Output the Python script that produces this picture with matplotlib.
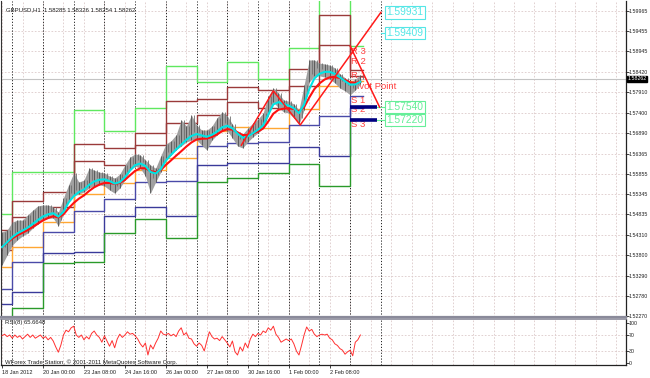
import matplotlib
matplotlib.use("Agg")
import matplotlib.pyplot as plt
import numpy as np
import pandas as pd

# ---------------- data ----------------
# 4-hour sampled price bars (bar index = hours since 18 Jan 2012 16:00)
bar_step = 4
close = [1.5401, 1.5419, 1.5436, 1.5444, 1.5449, 1.5457, 1.5469, 1.5479, 1.5487, 1.5489,
         1.5489, 1.5469, 1.5502, 1.5537, 1.5545, 1.5550, 1.5552, 1.5570, 1.5575, 1.5575,
         1.5573, 1.5563, 1.5555, 1.5568, 1.5590, 1.5611, 1.5621, 1.5616, 1.5600, 1.5575,
         1.5583, 1.5608, 1.5641, 1.5648, 1.5661, 1.5671, 1.5684, 1.5691, 1.5691, 1.5679,
         1.5676, 1.5689, 1.5701, 1.5714, 1.5711, 1.5694, 1.5674, 1.5666, 1.5684, 1.5696,
         1.5706, 1.5719, 1.5762, 1.5787, 1.5772, 1.5757, 1.5754, 1.5744, 1.5727, 1.5782,
         1.5838, 1.5853, 1.5850, 1.5848, 1.5843, 1.5833, 1.5820, 1.5810, 1.5802, 1.5812,
         1.5825]
high = [1.5439, 1.5444, 1.5464, 1.5469, 1.5469, 1.5482, 1.5494, 1.5505, 1.5507, 1.5507,
        1.5502, 1.5489, 1.5525, 1.5558, 1.5588, 1.5565, 1.5570, 1.5600, 1.5595, 1.5590,
        1.5588, 1.5580, 1.5575, 1.5585, 1.5608, 1.5628, 1.5636, 1.5633, 1.5621, 1.5608,
        1.5600, 1.5631, 1.5661, 1.5669, 1.5684, 1.5722, 1.5706, 1.5734, 1.5709, 1.5696,
        1.5696, 1.5706, 1.5727, 1.5742, 1.5732, 1.5711, 1.5691, 1.5686, 1.5701, 1.5714,
        1.5724, 1.5739, 1.5782, 1.5802, 1.5790, 1.5772, 1.5769, 1.5762, 1.5747, 1.5810,
        1.5873, 1.5873, 1.5865, 1.5863, 1.5860, 1.5853, 1.5838, 1.5828, 1.5817, 1.5825,
        1.5835]
low = [1.5356, 1.5381, 1.5406, 1.5419, 1.5429, 1.5436, 1.5449, 1.5459, 1.5469, 1.5474,
       1.5474, 1.5454, 1.5484, 1.5520, 1.5530, 1.5535, 1.5540, 1.5550, 1.5555, 1.5558,
       1.5555, 1.5545, 1.5537, 1.5550, 1.5570, 1.5595, 1.5605, 1.5600, 1.5580, 1.5537,
       1.5565, 1.5590, 1.5621, 1.5633, 1.5646, 1.5656, 1.5666, 1.5671, 1.5671, 1.5658,
       1.5646, 1.5671, 1.5684, 1.5696, 1.5694, 1.5676, 1.5656, 1.5651, 1.5666, 1.5679,
       1.5689, 1.5701, 1.5732, 1.5767, 1.5752, 1.5742, 1.5739, 1.5727, 1.5711, 1.5747,
       1.5817, 1.5833, 1.5833, 1.5830, 1.5825, 1.5815, 1.5802, 1.5795, 1.5785, 1.5797,
       1.5812]

# RSI(8), 2-hour sampled
rsi_step = 2
rsi = [68, 72, 66, 70, 62, 70, 64, 68, 60, 66, 72, 64, 70, 62, 66, 70, 62, 66, 58, 64,
       55, 40, 27, 45, 70, 82, 78, 88, 92, 70, 64, 70, 58, 66, 60, 74, 80, 70, 64, 52,
       68, 55, 42, 56, 38, 60, 72, 64, 70, 78, 72, 74, 68, 60, 48, 40, 50, 20, 45, 35,
       50, 62, 80, 72, 70, 74, 68, 72, 66, 80, 88, 70, 76, 62, 60, 48, 42, 50, 44, 30,
       55, 78, 66, 60, 62, 56, 66, 58, 50, 40, 55, 28, 20, 40, 30, 50, 38, 60, 72, 66,
       74, 70, 80, 76, 88, 82, 92, 72, 64, 52, 56, 60, 56, 60, 48, 30, 20, 44, 70, 90,
       80, 84, 72, 66, 70, 72, 70, 72, 62, 58, 48, 44, 36, 32, 22, 28, 32, 18, 52, 58,
       70]

# daily pivot levels (day boundaries in bars)
day_edges = [-1, 8, 32, 56, 80, 104, 128, 152, 176, 200, 224, 248, 272, 282]
r3 = [1.54844, 1.55903, 1.55903, 1.57468, 1.56938, 1.57518, 1.58578, 1.58174, 1.58679, 1.58250, 1.59032, 1.60369, 1.59082]
r2 = [1.54440, 1.55172, 1.55399, 1.56610, 1.56509, 1.56887, 1.57695, 1.57745, 1.58048, 1.57972, 1.58502, 1.59865, 1.58477]
r1 = [1.53936, 1.54768, 1.55020, 1.56181, 1.56080, 1.56585, 1.57140, 1.57342, 1.57670, 1.57518, 1.58073, 1.59108, 1.58326]
pp = [1.53507, 1.54011, 1.54642, 1.55348, 1.55626, 1.55954, 1.56257, 1.56938, 1.57039, 1.57014, 1.57493, 1.58073, 1.58199]
s1 = [1.52952, 1.53633, 1.54390, 1.54920, 1.55222, 1.55651, 1.55676, 1.56559, 1.56635, 1.56660, 1.57089, 1.57316, 1.57821]
s2 = [1.52573, 1.52876, 1.53860, 1.53885, 1.54793, 1.55020, 1.54793, 1.56080, 1.56131, 1.56131, 1.56534, 1.56307, 1.57518]
s3 = [1.52043, 1.52472, 1.53608, 1.53633, 1.54364, 1.54718, 1.54238, 1.55651, 1.55752, 1.55878, 1.56105, 1.55550, 1.57241]

# zigzag / projection lines
zig_bars = [187, 212, 233, 296]
zig_prices = [1.5658, 1.5795, 1.5709, 1.59931]
down_bars = [272, 295]
down_prices = [1.5908, 1.57540]

target_labels = ["1.59931", "1.59409", "1.57540", "1.57220"]
target_prices = [1.59931, 1.59409, 1.57540, 1.57220]

last_price = 1.58262

separators = [8, 32, 56, 80, 104, 128, 152, 176, 200, 224, 248, 272, 296]
ytick_vals = [1.59965, 1.59455, 1.58945, 1.58420, 1.57910, 1.57400, 1.56890, 1.56365,
              1.55855, 1.55345, 1.54835, 1.54310, 1.53800, 1.53290, 1.52780, 1.52270]
xtick_bars = [0, 32, 64, 96, 128, 160, 192, 224, 256]
xtick_labels = ["18 Jan 2012", "20 Jan 00:00", "23 Jan 08:00", "24 Jan 16:00",
                "26 Jan 00:00", "27 Jan 08:00", "30 Jan 16:00", "1 Feb 00:00", "2 Feb 08:00"]
rsi_ticks = [100, 70, 30, 0]

# ---------------- figure ----------------
plt.rcParams['font.family'] = ['Liberation Sans', 'DejaVu Sans']
fig = plt.figure(figsize=(6.5, 3.78), dpi=100)
fig.patch.set_facecolor('white')
ax = fig.add_axes([1/650, 61/378, 625/650, 316/378])
ar = fig.add_axes([1/650, 13/378, 625/650, 46/378])

XL = (-0.8, 487.5)
grid_col = '#dccaca'
small = 4.0
txt_col = '#202020'

for a in (ax, ar):
    a.set_xlim(*XL)
    a.set_facecolor('white')
    for v in np.arange(0, 488, 16):
        a.axvline(v, color=grid_col, lw=0.6, ls=(0, (2, 2)), zorder=0)
    for s in separators:
        a.axvline(s, color='#222222', lw=0.7, ls=(0, (1.2, 1.8)), zorder=1)
    a.spines['top'].set_visible(False)
    a.spines['left'].set_color('#333333')
    a.spines['left'].set_linewidth(0.8)
    a.spines['right'].set_color('#222222')
    a.spines['right'].set_linewidth(0.9)
    a.yaxis.tick_right()
    a.tick_params(axis='y', length=1.8, width=0.6, pad=0.2, labelsize=3.75, colors=txt_col)

ax.set_ylim(1.52245, 1.60218)
for v in ytick_vals:
    ax.axhline(v, color=grid_col, lw=0.6, ls=(0, (2, 2)), zorder=0)
ax.set_yticks(ytick_vals)
ax.set_yticklabels([f"{v:.5f}" for v in ytick_vals])
ax.set_xticks([])
ax.spines['bottom'].set_color('#8a8a9a')
ax.spines['bottom'].set_linewidth(1.6)

# pivot step lines
step_x = day_edges
def steps(vals, col, lw=1.0):
    ax.step(step_x, list(vals) + [vals[-1]], where='post', color=col, lw=lw, zorder=2)
steps(r3, '#5fe85f')
steps(r2, '#9a3a3a')
steps(r1, '#9a3a3a')
steps(pp, '#ffa733')
steps(s1, '#4a4aa8')
steps(s2, '#3a3a9a')
steps(s3, '#2a9a2a')

# current price line
ax.axhline(last_price, color='#c4c4c4', lw=0.8, zorder=1)

# pivot labels
lab_col = '#ff4040'
for txt, pr in [("R 3", 1.58956), ("R 2", 1.58704), ("R 1", 1.5833), ("Pivot Point", 1.58073),
                ("S 1", 1.5772), ("S 2", 1.5747), ("S 3", 1.5711)]:
    ax.text(273, pr, txt, color=lab_col, fontsize=6.8, va='center', ha='left', zorder=2.5)

# price bars: grey band with dark spikes
bx = np.arange(len(close)) * bar_step
ax.fill_between(bx, low, high, color='#a0a0a0', lw=0, zorder=3)
ax.vlines(bx, low, high, color='#505050', lw=0.6, zorder=3.2)
ax.vlines(bx + 2, close, high, color='#707070', lw=0.6, zorder=3.1)

# moving averages
cs = pd.Series(close)
ma_fast = cs.ewm(span=3, adjust=True).mean()
ma_slow = cs.ewm(span=6, adjust=True).mean()
ax.plot(bx, ma_slow, color='#ff1010', lw=1.5, zorder=4)
ax.plot(bx, ma_fast, color='#00e4e4', lw=1.5, zorder=4.2)

# zigzag + projections
ax.plot(zig_bars, zig_prices, color='#ff1a1a', lw=1.1, zorder=5)
ax.plot(down_bars, down_prices, color='#ff1a1a', lw=1.1, zorder=5)

# navy level bars and connectors
for pr in target_prices[2:]:
    ax.plot([272, 293], [pr, pr], color='#000080', lw=2.6, zorder=4.5, solid_capstyle='butt')
    ax.plot([293, 300], [pr, pr], color='#66ee99', lw=0.8, zorder=4.5)
ax.plot([296, 300], [target_prices[1]] * 2, color='#55e6e6', lw=0.8, zorder=4.5)

box_cols = ['#55e6e6', '#55e6e6', '#66ee99', '#66ee99']
for t, pr, c in zip(target_labels, target_prices, box_cols):
    ax.text(300.5, pr, t, color=c, fontsize=7.4, va='center', ha='left',
            zorder=6, bbox=dict(facecolor='white', edgecolor=c, boxstyle='square,pad=0.12', lw=0.8))

# watermark and header
ax.text(560, 1.5907, "FOREXAC.COM", color='#ff2020', fontsize=11,
        ha='center', va='center', zorder=6)
ax.text(3, 1.6000, "GBPUSD,H1  1.58285 1.58326 1.58254 1.58262", fontsize=4.3,
        color=txt_col, ha='left', va='center', zorder=6)

# last price tag
ax.text(1.0025, last_price, "1.58262", transform=ax.get_yaxis_transform(), fontsize=3.75,
        color='white', va='center', ha='left', zorder=7, clip_on=False,
        bbox=dict(facecolor='black', edgecolor='black', boxstyle='square,pad=0.1'))

# ---------------- RSI panel ----------------
ar.set_ylim(-5, 110)
for v in (70, 30):
    ar.axhline(v, color=grid_col, lw=0.6, ls=(0, (2, 2)), zorder=0)
rx = np.arange(len(rsi)) * rsi_step
ar.plot(rx, rsi, color='#ff3030', lw=0.7, zorder=3)
ar.set_yticks(rsi_ticks)
ar.set_yticklabels([str(v) for v in rsi_ticks])
ar.spines['top'].set_color('#8a8a9a')
ar.spines['top'].set_visible(True)
ar.spines['top'].set_linewidth(1.2)
ar.spines['bottom'].set_color('#222222')
ar.spines['bottom'].set_linewidth(0.9)
ar.set_xticks(xtick_bars)
ar.set_xticklabels(xtick_labels, ha='left')
ar.tick_params(axis='x', length=2, width=0.6, pad=1.5, labelsize=small, colors=txt_col)
ar.text(2, 101, "RSI(8) 65.6648", fontsize=4.3, color=txt_col, ha='left', va='center', zorder=6)
ar.text(2, 2, "WForex Trade Station, \u00a9 2001-2011 MetaQuotes Software Corp.", fontsize=4.3,
        color=txt_col, ha='left', va='center', zorder=6)

fig.savefig("out.png", dpi=100)
